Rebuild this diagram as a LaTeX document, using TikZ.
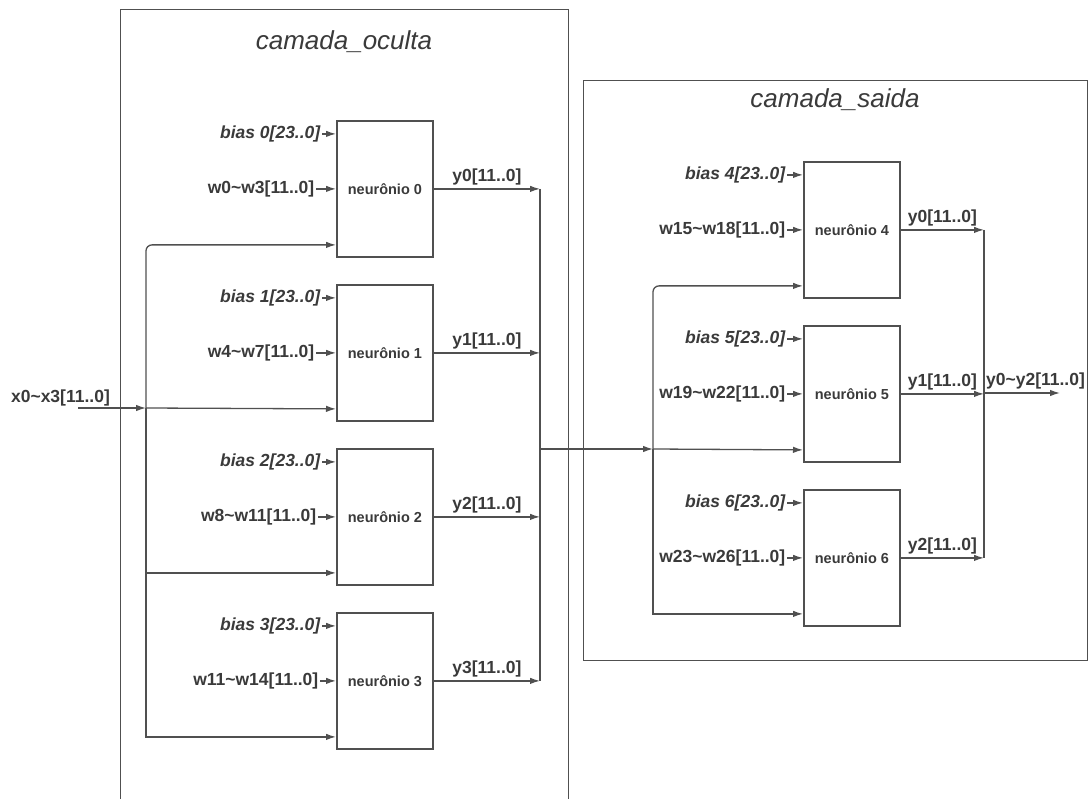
\documentclass[tikz,border=0pt]{standalone}
\usepackage{fontspec}
\setmainfont{Liberation Sans}
\usetikzlibrary{arrows.meta}
\definecolor{linha}{HTML}{505050}
\definecolor{texto}{HTML}{3A3A3A}

\begin{document}
\begin{tikzpicture}[x=1pt, y=-1pt,
    neuronio/.style={draw=linha, line width=1.8pt, minimum width=96pt, minimum height=136pt, inner sep=0pt, anchor=north west, text=texto, font=\fontsize{14.5}{16}\selectfont\bfseries},
    rotulo/.style={text=texto, inner sep=1.5pt, font=\fontsize{17.5}{20}\selectfont\bfseries},
    rotulobias/.style={rotulo, font=\fontsize{17.5}{20}\selectfont\bfseries\itshape},
    titulo/.style={text=texto, font=\fontsize{26}{30}\selectfont\itshape},
    moldura/.style={draw=linha, line width=1pt},
    fio/.style={draw=linha, line width=1.3pt},
    seta/.style={fio, -{Latex[length=10pt, width=6.5pt]}}]
    \useasboundingbox (0,0) rectangle (1088,799);

    \draw[moldura] (120,799) -- (120,10) -- (568,10) -- (568,799);
    \node[titulo] (toculta) at (344,42) {camada\_oculta};
    \draw[moldura] (583,81) rectangle (1087,660);
    \node[titulo] (tsaida) at (835,100) {camada\_saida};

    \node[neuronio] (n0) at (336,120) {neurônio 0};
    \node[neuronio] (n1) at (336,284) {neurônio 1};
    \node[neuronio] (n2) at (336,448) {neurônio 2};
    \node[neuronio] (n3) at (336,612) {neurônio 3};
    \node[neuronio] (n4) at (803,161) {neurônio 4};
    \node[neuronio] (n5) at (803,325) {neurônio 5};
    \node[neuronio] (n6) at (803,489) {neurônio 6};

    \node[rotulobias, anchor=east] (b0) at ([xshift=-14pt, yshift=55pt]n0.west) {bias 0[23..0]};
    \node[rotulobias, anchor=east] (b1) at ([xshift=-14pt, yshift=55pt]n1.west) {bias 1[23..0]};
    \node[rotulobias, anchor=east] (b2) at ([xshift=-14pt, yshift=55pt]n2.west) {bias 2[23..0]};
    \node[rotulobias, anchor=east] (b3) at ([xshift=-14pt, yshift=55pt]n3.west) {bias 3[23..0]};
    \node[rotulobias, anchor=east] (b4) at ([xshift=-16pt, yshift=55pt]n4.west) {bias 4[23..0]};
    \node[rotulobias, anchor=east] (b5) at ([xshift=-16pt, yshift=55pt]n5.west) {bias 5[23..0]};
    \node[rotulobias, anchor=east] (b6) at ([xshift=-16pt, yshift=55pt]n6.west) {bias 6[23..0]};
    \draw[seta] (b0.east) -- (b0.east -| n0.west);
    \draw[seta] (b1.east) -- (b1.east -| n1.west);
    \draw[seta] (b2.east) -- (b2.east -| n2.west);
    \draw[seta] (b3.east) -- (b3.east -| n3.west);
    \draw[seta] (b4.east) -- (b4.east -| n4.west);
    \draw[seta] (b5.east) -- (b5.east -| n5.west);
    \draw[seta] (b6.east) -- (b6.east -| n6.west);

    \node[rotulo, anchor=east] (w0) at ([xshift=-20pt]n0.west) {w0\textasciitilde w3[11..0]};
    \node[rotulo, anchor=east] (w1) at ([xshift=-20pt]n1.west) {w4\textasciitilde w7[11..0]};
    \node[rotulo, anchor=east] (w2) at ([xshift=-18pt]n2.west) {w8\textasciitilde w11[11..0]};
    \node[rotulo, anchor=east] (w3) at ([xshift=-16pt]n3.west) {w11\textasciitilde w14[11..0]};
    \node[rotulo, anchor=east] (w4) at ([xshift=-16pt]n4.west) {w15\textasciitilde w18[11..0]};
    \node[rotulo, anchor=east] (w5) at ([xshift=-16pt]n5.west) {w19\textasciitilde w22[11..0]};
    \node[rotulo, anchor=east] (w6) at ([xshift=-16pt]n6.west) {w23\textasciitilde w26[11..0]};
    \draw[seta] (w0.east) -- (n0.west);
    \draw[seta] (w1.east) -- (n1.west);
    \draw[seta] (w2.east) -- (n2.west);
    \draw[seta] (w3.east) -- (n3.west);
    \draw[seta] (w4.east) -- (n4.west);
    \draw[seta] (w5.east) -- (n5.west);
    \draw[seta] (w6.east) -- (n6.west);

    \coordinate (n0x) at ([yshift=-56pt]n0.west);
    \coordinate (n1x) at ([yshift=-56pt]n1.west);
    \coordinate (n2x) at ([yshift=-56pt]n2.west);
    \coordinate (n3x) at ([yshift=-56pt]n3.west);
    \coordinate (n4x) at ([yshift=-56pt]n4.west);
    \coordinate (n5x) at ([yshift=-56pt]n5.west);
    \coordinate (n6x) at ([yshift=-56pt]n6.west);

    \coordinate (xini) at (78,408);
    \coordinate (xbus) at (146,408);
    \draw[seta] (xini) -- (xbus) node[midway, above left, rotulo] {x0\textasciitilde x3[11..0]};
    \draw[seta, rounded corners=6pt] (xbus) |- (n0x);
    \draw[seta] (xbus) -- (n1x);
    \draw[seta] (xbus |- n2x) -- (n2x);
    \draw[seta] (xbus) |- (n3x);

    \coordinate (ybus) at (540,449);
    \draw[seta] (n0.east) -- (n0.east -| ybus) node[midway, above=2pt, rotulo] {y0[11..0]};
    \draw[seta] (n1.east) -- (n1.east -| ybus) node[midway, above=2pt, rotulo] {y1[11..0]};
    \draw[seta] (n2.east) -- (n2.east -| ybus) node[midway, above=2pt, rotulo] {y2[11..0]};
    \draw[seta] (n3.east) -- (n3.east -| ybus) node[midway, above=2pt, rotulo] {y3[11..0]};
    \draw[fio] (n0.east -| ybus) -- (n3.east -| ybus);

    \coordinate (sbus) at (653,449);
    \draw[seta] (ybus) -- (sbus);
    \draw[seta] (sbus) -- (n5x);
    \draw[seta, rounded corners=6pt] (sbus) |- (n4x);
    \draw[seta] (sbus) |- (n6x);

    \coordinate (obus) at (984,393);
    \coordinate (ofim) at (1060,393);
    \draw[seta] (n4.east) -- (n4.east -| obus) node[midway, above=2pt, rotulo] {y0[11..0]};
    \draw[seta] (n5.east) -- (n5.east -| obus) node[midway, above=2pt, rotulo] {y1[11..0]};
    \draw[seta] (n6.east) -- (n6.east -| obus) node[midway, above=2pt, rotulo] {y2[11..0]};
    \draw[fio] (n4.east -| obus) -- (n6.east -| obus);
    \draw[seta] (obus) -- (ofim) node[pos=0, anchor=south west, yshift=2pt, rotulo] {y0\textasciitilde y2[11..0]};
  \end{tikzpicture}
\end{document}
